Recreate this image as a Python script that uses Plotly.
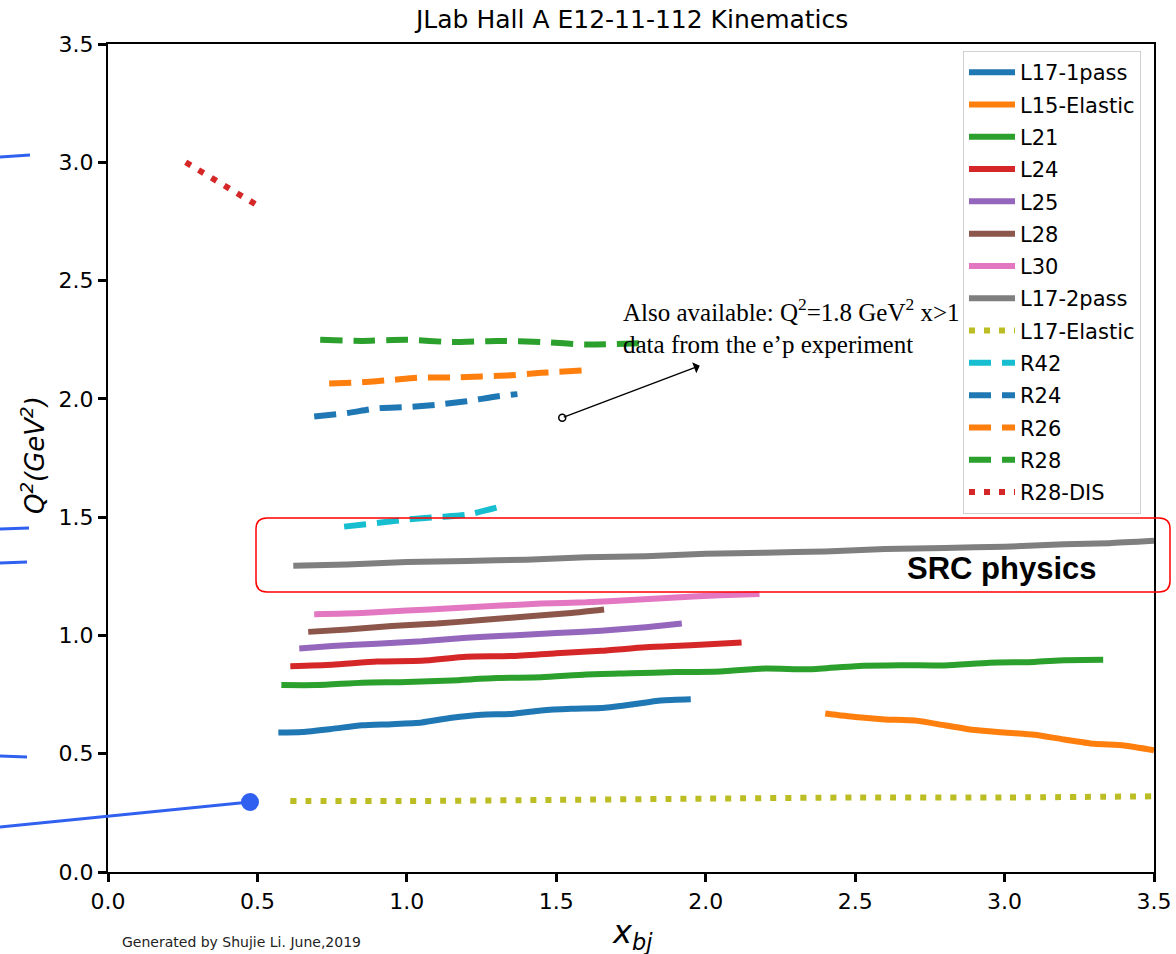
import plotly.graph_objects as go

# ---------------- data ----------------
names = ["L17-1pass", "L15-Elastic", "L21", "L24", "L25", "L28", "L30", "L17-2pass",
         "L17-Elastic", "R42", "R24", "R26", "R28", "R28-DIS"]
colors = ["#1f77b4", "#ff7f0e", "#2ca02c", "#d62728", "#9467bd", "#8c564b", "#e377c2",
          "#7f7f7f", "#bcbd22", "#17becf", "#1f77b4", "#ff7f0e", "#2ca02c", "#d62728"]
styles = ["solid"] * 8 + ["dot", "dash", "dash", "dash", "dash", "dot"]

x_L17_1pass = [0.57, 0.65, 0.75, 0.85, 0.95, 1.05, 1.15, 1.25, 1.35, 1.45, 1.55, 1.65, 1.75, 1.85, 1.95]
y_L17_1pass = [0.59, 0.592, 0.605, 0.62, 0.625, 0.632, 0.652, 0.665, 0.668, 0.683, 0.69, 0.693, 0.708, 0.725, 0.73]

x_L15_Elastic = [2.40, 2.50, 2.60, 2.70, 2.80, 2.90, 3.00, 3.10, 3.20, 3.30, 3.40, 3.50]
y_L15_Elastic = [0.67, 0.655, 0.645, 0.64, 0.62, 0.60, 0.59, 0.58, 0.56, 0.542, 0.535, 0.515]

x_L21 = [0.58, 0.70, 0.85, 1.00, 1.15, 1.30, 1.45, 1.60, 1.75, 1.90, 2.05, 2.20, 2.35, 2.50, 2.65, 2.80, 2.95, 3.10, 3.20, 3.33]
y_L21 = [0.79, 0.79, 0.80, 0.803, 0.81, 0.82, 0.823, 0.835, 0.84, 0.845, 0.848, 0.86, 0.857, 0.87, 0.874, 0.873, 0.885, 0.888, 0.895, 0.897]

x_L24 = [0.61, 0.75, 0.90, 1.05, 1.20, 1.35, 1.50, 1.65, 1.80, 1.95, 2.12]
y_L24 = [0.87, 0.876, 0.89, 0.893, 0.91, 0.913, 0.925, 0.935, 0.95, 0.958, 0.97]

x_L25 = [0.64, 0.75, 0.90, 1.05, 1.20, 1.35, 1.50, 1.65, 1.80, 1.92]
y_L25 = [0.945, 0.955, 0.965, 0.975, 0.99, 1.0, 1.01, 1.02, 1.035, 1.05]

x_L28 = [0.67, 0.80, 0.95, 1.10, 1.25, 1.40, 1.55, 1.66]
y_L28 = [1.015, 1.025, 1.04, 1.05, 1.065, 1.08, 1.095, 1.11]

x_L30 = [0.69, 0.85, 1.00, 1.15, 1.30, 1.45, 1.60, 1.75, 1.90, 2.05, 2.18]
y_L30 = [1.09, 1.095, 1.105, 1.115, 1.125, 1.135, 1.14, 1.15, 1.16, 1.17, 1.175]

x_L17_2pass = [0.62, 0.80, 1.00, 1.20, 1.40, 1.60, 1.80, 2.00, 2.20, 2.40, 2.60, 2.80, 3.00, 3.20, 3.35, 3.50]
y_L17_2pass = [1.295, 1.30, 1.31, 1.315, 1.32, 1.33, 1.335, 1.345, 1.35, 1.355, 1.365, 1.37, 1.375, 1.385, 1.39, 1.40]

x_L17_Elastic = [0.61, 1.00, 1.50, 2.00, 2.50, 3.00, 3.50]
y_L17_Elastic = [0.30, 0.30, 0.305, 0.31, 0.315, 0.315, 0.32]

x_R42 = [0.79, 0.90, 1.00, 1.10, 1.20, 1.30]
y_R42 = [1.46, 1.475, 1.49, 1.50, 1.51, 1.54]

x_R24 = [0.69, 0.80, 0.90, 1.00, 1.10, 1.20, 1.30, 1.37]
y_R24 = [1.925, 1.94, 1.96, 1.965, 1.975, 1.99, 2.01, 2.02]

x_R26 = [0.74, 0.85, 0.95, 1.05, 1.15, 1.25, 1.35, 1.45, 1.59]
y_R26 = [2.065, 2.07, 2.08, 2.09, 2.09, 2.095, 2.10, 2.11, 2.12]

x_R28 = [0.71, 0.85, 1.00, 1.15, 1.30, 1.45, 1.60, 1.78]
y_R28 = [2.25, 2.245, 2.25, 2.24, 2.245, 2.24, 2.23, 2.235]

x_R28_DIS = [0.26, 0.51]
y_R28_DIS = [3.0, 2.81]

xs = [x_L17_1pass, x_L15_Elastic, x_L21, x_L24, x_L25, x_L28, x_L30, x_L17_2pass,
      x_L17_Elastic, x_R42, x_R24, x_R26, x_R28, x_R28_DIS]
ys = [y_L17_1pass, y_L15_Elastic, y_L21, y_L24, y_L25, y_L28, y_L30, y_L17_2pass,
      y_L17_Elastic, y_R42, y_R24, y_R26, y_R28, y_R28_DIS]

x_ticks = [0.0, 0.5, 1.0, 1.5, 2.0, 2.5, 3.0, 3.5]
y_ticks = [0.0, 0.5, 1.0, 1.5, 2.0, 2.5, 3.0, 3.5]

# annotation arrow (data coords)
arrow_tail = (1.52, 1.92)
arrow_head = (1.98, 2.14)

dash_map = {"solid": "solid", "dash": "22px,11px", "dot": "6px,9px"}

fig = go.Figure()
for n, c, s, x, y in zip(names, colors, styles, xs, ys):
    fig.add_trace(go.Scatter(
        x=x, y=y, mode="lines", name=n, legendgroup=n,
        line=dict(color=c, width=6, dash=dash_map[s], shape="spline", smoothing=0.6),
    ))

fig.add_trace(go.Scatter(
    x=[arrow_tail[0]], y=[arrow_tail[1]], mode="markers", showlegend=False,
    marker=dict(symbol="circle-open", size=7, color="black", line=dict(width=1.5)),
))

fig.add_annotation(
    x=arrow_head[0], y=arrow_head[1], ax=arrow_tail[0], ay=arrow_tail[1],
    xref="x", yref="y", axref="x", ayref="y", text="", showarrow=True,
    arrowhead=1, arrowsize=1.4, arrowwidth=1.4, arrowcolor="black",
)

PW, PH = 1046.0, 828.0
def px(xp): return (xp - 108) / PW
def py(yp): return (872 - yp) / PH

fig.add_annotation(
    x=px(621), y=py(292), xref="paper", yref="paper", xanchor="left", yanchor="top",
    text="Also available: Q<sup>2</sup>=1.8 GeV<sup>2</sup> x>1<br>data from the e\u2019p experiment",
    showarrow=False, align="left",
    font=dict(family="Liberation Serif", size=25, color="black"),
)

# SRC physics box
x0, x1, y0, y1 = px(256), px(1170), py(592), py(518)
rx, ry = 11 / PW, 11 / PH
path = (f"M {x0+rx},{y0} L {x1-rx},{y0} Q {x1},{y0} {x1},{y0+ry} L {x1},{y1-ry} "
        f"Q {x1},{y1} {x1-rx},{y1} L {x0+rx},{y1} Q {x0},{y1} {x0},{y1-ry} "
        f"L {x0},{y0+ry} Q {x0},{y0} {x0+rx},{y0} Z")
fig.add_shape(type="path", path=path, xref="paper", yref="paper",
              line=dict(color="#ff0000", width=1.5), layer="above")
fig.add_annotation(x=px(1002), y=py(569), xref="paper", yref="paper", showarrow=False,
                   xanchor="center", yanchor="middle", text="<b>SRC physics</b>",
                   font=dict(family="Liberation Sans", size=31, color="black"))

# blue overlay marks on the left
blue = "#3060f0"
fig.add_shape(type="line", xref="paper", yref="paper", x0=px(0), y0=py(827), x1=px(250), y1=py(802),
              line=dict(color=blue, width=3), layer="above")
fig.add_shape(type="circle", xref="paper", yref="paper", x0=px(241), y0=py(811), x1=px(259), y1=py(793),
              line=dict(color=blue, width=0), fillcolor=blue, layer="above")
for (a, b, c2, d) in [(0, 157, 30, 155), (0, 529, 29, 528), (0, 563, 27, 562), (0, 756, 27, 757)]:
    fig.add_shape(type="line", xref="paper", yref="paper",
                  x0=px(a), y0=py(b), x1=px(c2), y1=py(d),
                  line=dict(color=blue, width=3), layer="above")

# title / footer / axis titles
fig.add_annotation(x=px(631), y=py(19), xref="paper", yref="paper", showarrow=False,
                   xanchor="center", yanchor="middle",
                   text="JLab Hall A E12-11-112 Kinematics",
                   font=dict(family="DejaVu Sans", size=25, color="black"))
fig.add_annotation(x=px(120), y=py(942), xref="paper", yref="paper", showarrow=False,
                   xanchor="left", yanchor="middle", text="Generated by Shujie Li. June,2019",
                   font=dict(family="DejaVu Sans", size=14, color="#222222"))
fig.add_annotation(x=px(632), y=py(934), xref="paper", yref="paper", showarrow=False,
                   xanchor="center", yanchor="middle",
                   text="<i>x<sub>bj</sub></i>",
                   font=dict(family="DejaVu Sans", size=32, color="black"))
fig.add_annotation(x=px(33), y=py(455), xref="paper", yref="paper", showarrow=False,
                   xanchor="center", yanchor="middle",
                   textangle=-90, text="<i>Q<sup>2</sup>(GeV<sup>2</sup>)</i>",
                   font=dict(family="DejaVu Sans", size=26, color="black"))

axis_common = dict(
    showgrid=False, zeroline=False, showline=True, linecolor="black", linewidth=2.2,
    mirror=True, ticks="outside", ticklen=8, tickwidth=3, tickcolor="black",
    tickfont=dict(family="DejaVu Sans", size=22, color="black"), tickformat=".1f",
    automargin=False,
)
fig.update_xaxes(range=[0, 3.5], tickvals=x_ticks, **axis_common)
fig.update_yaxes(range=[0, 3.5], tickvals=y_ticks, **axis_common)

fig.update_layout(
    width=1176, height=954, plot_bgcolor="white", paper_bgcolor="white",
    margin=dict(l=108, r=22, t=44, b=82, autoexpand=False),
    legend=dict(x=px(963), y=py(51), xanchor="left", yanchor="top",
                bgcolor="rgba(255,255,255,0.9)", bordercolor="#d0d0d0", borderwidth=1,
                font=dict(family="DejaVu Sans", size=21, color="black"),
                tracegroupgap=2, itemwidth=46),
    showlegend=True,
)

fig.write_html("out.html")
